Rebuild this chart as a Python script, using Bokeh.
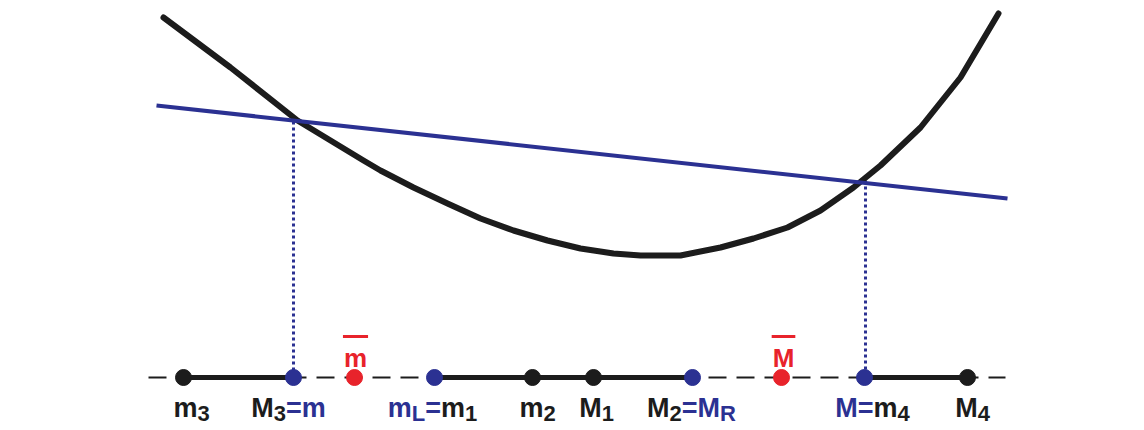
from bokeh.plotting import figure
from bokeh.models import Range1d, ColumnDataSource
from bokeh.core.properties import value
from bokeh.embed import file_html
from bokeh.resources import INLINE

# ---------------- data ----------------
BLACK = "#1c1c1c"
BLUE = "#2b3192"
RED = "#e8232b"

# convex curve (black)
curve_x = [163, 230, 297, 363, 380, 413, 447, 480, 513, 547, 580, 613, 640,
           680, 720, 753, 787, 820, 853, 880, 920, 960, 998]
curve_y = [17, 67, 120, 160, 170, 187, 203, 218, 230, 240, 248, 253, 255,
           255, 247, 238, 227, 210, 187, 165, 127, 77, 13]

# straight blue line
line_x = [156, 1007]
line_y = [105, 198]

# intersection abscissas (dotted projections)
inter_x = [293, 865]
inter_y = [121, 180]

# baseline
axis_y = 377
axis_x0, axis_x1 = 148, 1005

# points on the axis
pt_names = ["m3", "M3=m", "m_bar", "mL=m1", "m2", "M1", "M2=MR", "M_bar", "M=m4", "M4"]
pt_x = [183, 293, 354, 434, 532, 593, 692, 781, 864, 967]
pt_col = [BLACK, BLUE, RED, BLUE, BLACK, BLACK, BLUE, RED, BLUE, BLACK]

# solid intervals on the axis
seg_x0 = [183, 434, 864]
seg_x1 = [293, 692, 967]

# labels below the axis: runs of (text, colour, subscript?)
label_runs = [
    [("m", BLACK, False), ("3", BLACK, True)],
    [("M", BLACK, False), ("3", BLACK, True), ("=m", BLUE, False)],
    [("m", BLUE, False), ("L", BLUE, True), ("=", BLUE, False), ("m", BLACK, False), ("1", BLACK, True)],
    [("m", BLACK, False), ("2", BLACK, True)],
    [("M", BLACK, False), ("1", BLACK, True)],
    [("M", BLACK, False), ("2", BLACK, True), ("=M", BLUE, False), ("R", BLUE, True)],
    [("M=", BLUE, False), ("m", BLACK, False), ("4", BLACK, True)],
    [("M", BLACK, False), ("4", BLACK, True)],
]
label_cx = [191, 288, 432, 537, 596, 691, 872, 972]

# overbar labels (red)
bar_text = ["m", "M"]
bar_cx = [355, 783]

# ---------------- layout helpers ----------------
MAIN = 27
SUB = 22
BASE = 407
SUB_DROP = 6
CW = {"m": 0.889, "M": 0.833, "=": 0.584, "L": 0.611, "R": 0.722,
      "1": 0.556, "2": 0.556, "3": 0.556, "4": 0.556}


def width(s, size):
    return sum(CW.get(c, 0.6) for c in s) * size


W, H = 1136, 430
p = figure(width=W, height=H, x_range=Range1d(0, W), y_range=Range1d(H, 0),
           output_backend="svg", toolbar_location=None, min_border=0)
p.axis.visible = False
p.grid.visible = False
p.outline_line_color = None
p.background_fill_color = "white"
p.border_fill_color = "white"

# dashed axis
p.line([axis_x0, axis_x1], [axis_y, axis_y], line_color=BLACK, line_width=2,
       line_dash="18 10")
# solid intervals
p.segment(x0=seg_x0, y0=[axis_y] * len(seg_x0), x1=seg_x1, y1=[axis_y] * len(seg_x1),
          line_color=BLACK, line_width=5)
# dotted projections
p.segment(x0=inter_x, y0=inter_y, x1=inter_x, y1=[axis_y] * len(inter_x),
          line_color=BLUE, line_width=3, line_dash="3 3")
# points
p.scatter(pt_x, [axis_y] * len(pt_x), size=16, fill_color=pt_col, line_color=pt_col)
# curve and line
p.line(curve_x, curve_y, line_color=BLACK, line_width=6, line_join="round", line_cap="round")
p.line(line_x, line_y, line_color=BLUE, line_width=4)

# labels
rows = dict(x=[], y=[], text=[], color=[], size=[])
for runs, cx in zip(label_runs, label_cx):
    total = sum(width(t, SUB if s else MAIN) for t, _, s in runs)
    x = cx - total / 2
    for t, c, s in runs:
        sz = SUB if s else MAIN
        rows["x"].append(x)
        rows["y"].append(BASE + (SUB_DROP if s else 0))
        rows["text"].append(t)
        rows["color"].append(c)
        rows["size"].append(f"{sz}px")
        x += width(t, sz)
src = ColumnDataSource(rows)
p.text(x="x", y="y", text="text", text_color="color", text_font_size="size",
       text_font=value("Liberation Sans"), text_font_style="bold",
       text_align="left", text_baseline="alphabetic", source=src)

# overbar labels
BAR_BASE = 357
p.text(x=bar_cx, y=[BAR_BASE] * len(bar_cx), text=bar_text, text_color=RED,
       text_font_size="26px", text_font=value("Liberation Sans"), text_font_style="bold",
       text_align="center", text_baseline="alphabetic")
bw = [width(t, 26) / 2 + 1 for t in bar_text]
p.segment(x0=[c - w for c, w in zip(bar_cx, bw)], y0=[336] * len(bar_cx),
          x1=[c + w for c, w in zip(bar_cx, bw)], y1=[336] * len(bar_cx),
          line_color=RED, line_width=3)

open("out.html", "w").write(file_html(p, INLINE))
